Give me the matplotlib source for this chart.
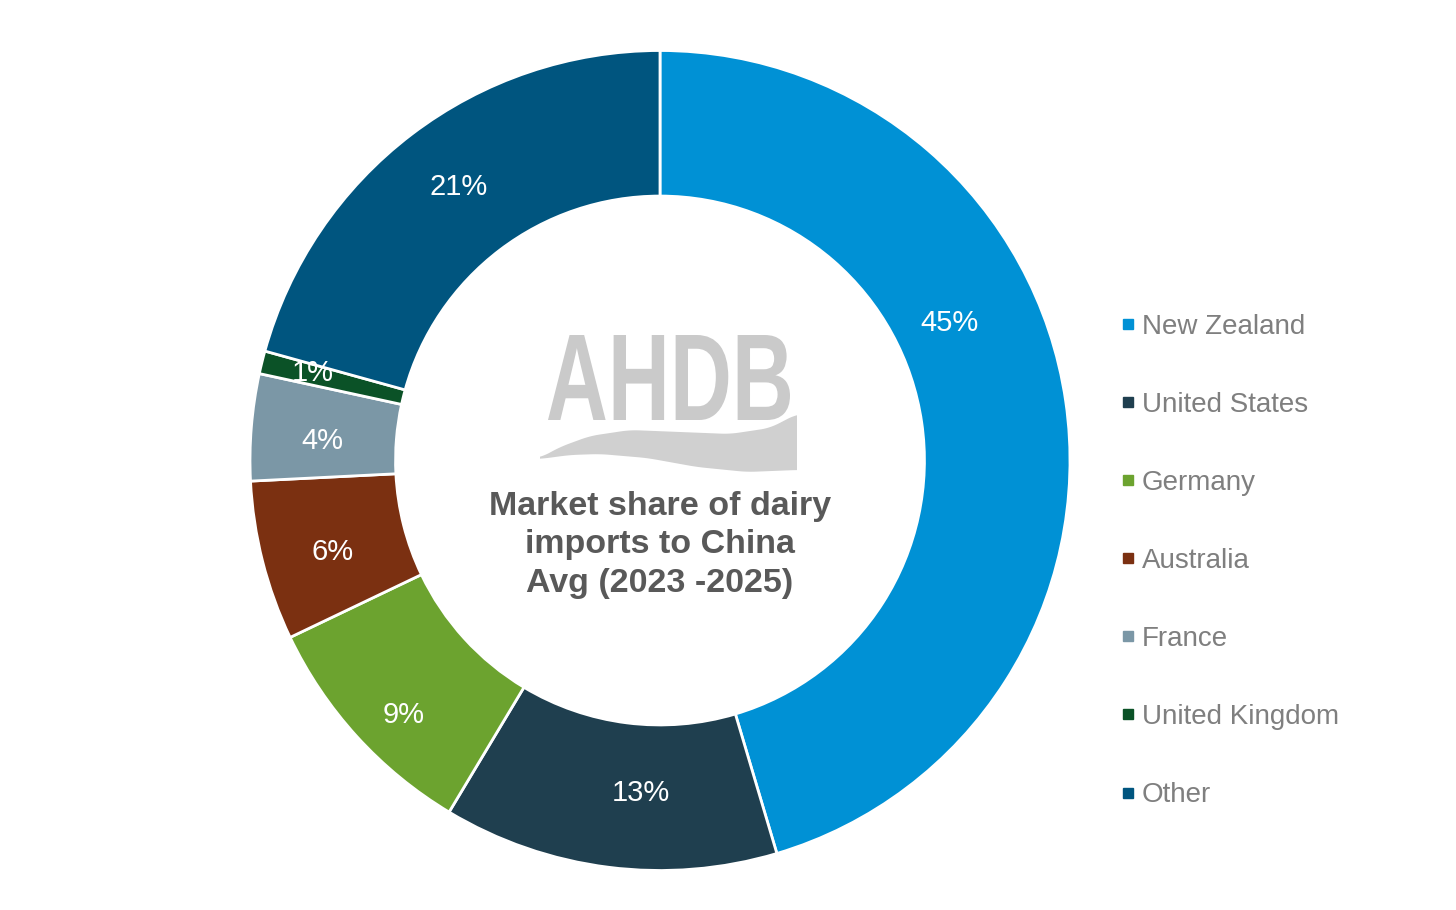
import numpy as np
import matplotlib
matplotlib.use("Agg")
import matplotlib.pyplot as plt
from matplotlib.lines import Line2D
from matplotlib.textpath import TextPath
from matplotlib.font_manager import FontProperties
from matplotlib.patches import PathPatch, Polygon
from matplotlib.transforms import Affine2D

plt.rcParams['font.family'] = ['Liberation Sans', 'DejaVu Sans']

countries = ["New Zealand", "United States", "Germany", "Australia",
             "France", "United Kingdom", "Other"]
shares = [45.4, 13.2, 9.3, 6.3, 4.2, 0.9, 20.7]
colors = ["#0091D5", "#1F3F4F", "#6CA32F", "#7B3011",
          "#7B97A6", "#0B5227", "#00557F"]
title_lines = ["Market share of dairy", "imports to China", "Avg (2023 -2025)"]

# label placement as in the original (angle clockwise from 12 o'clock, radius)
label_polar = [(64.6, 0.783), (183.3, 0.812), (225.2, 0.88), (254.4, 0.828),
               (273.3, 0.826), (284.2, 0.873), (323.6, 0.829)]

W, H = 1456, 910
fig = plt.figure(figsize=(W / 100, H / 100), dpi=100)
fig.patch.set_facecolor("white")

cx, cy, R = 660, 460.5, 410
ax = fig.add_axes([(cx - R) / W, (H - cy - R) / H, 2 * R / W, 2 * R / H])
wedges, texts, autotexts = ax.pie(
    shares, colors=colors, startangle=90, counterclock=False,
    radius=1.0, autopct='%.0f%%', pctdistance=0.83,
    wedgeprops=dict(width=0.355, edgecolor="white", linewidth=2),
    textprops=dict(color="white", fontsize=21))
ax.set_xlim(-1, 1)
ax.set_ylim(-1, 1)
ax.set_aspect("equal")
ax.axis("off")

for t, (a, r) in zip(autotexts, label_polar):
    th = np.deg2rad(90 - a)
    t.set_position((r * np.cos(th), r * np.sin(th)))

# overlay axes in pixel coordinates for the centre decoration
ov = fig.add_axes([0, 0, 1, 1], zorder=5)
ov.set_xlim(0, W)
ov.set_ylim(H, 0)
ov.axis("off")
ov.patch.set_alpha(0)

# AHDB logo letters
tp = TextPath((0, 0), "AHDB", size=100,
              prop=FontProperties(family="Liberation Sans", weight="bold"))
ext = tp.get_extents()
x0, x1, ytop, ybot = 548, 790, 335, 420
sx = (x1 - x0) / ext.width
sy = (ybot - ytop) / ext.height
tr = Affine2D().translate(-ext.x0, -ext.y0).scale(sx, -sy).translate(x0, ybot)
ov.add_patch(PathPatch(tr.transform_path(tp), facecolor="#CACACA", edgecolor="none"))

# wave under the logo
xs = np.linspace(540, 797, 200)
top = np.interp(xs, [540, 560, 590, 630, 680, 730, 770, 797],
                [458, 447, 436, 430, 432, 434, 428, 414])
bot = np.interp(xs, [540, 570, 600, 647, 697, 747, 797],
                [459, 455, 454, 458, 467, 472, 470])
k = np.ones(15) / 15
top_s = np.convolve(np.pad(top, 7, mode="edge"), k, mode="valid")
bot_s = np.convolve(np.pad(bot, 7, mode="edge"), k, mode="valid")
poly = np.vstack([np.column_stack([xs, top_s]), np.column_stack([xs[::-1], bot_s[::-1]])])
ov.add_patch(Polygon(poly, closed=True, facecolor="#D0D0D0", edgecolor="none"))

ov.text(cx, 545, "\n".join(title_lines), ha="center", va="center",
        fontsize=24.5, fontweight="bold", color="#595959", linespacing=1.31)

handles = [Line2D([], [], marker="s", linestyle="none", markersize=6.5,
                  markerfacecolor=c, markeredgecolor=c) for c in colors]
fig.legend(handles, countries, loc="center left",
           bbox_to_anchor=(1121 / W, 1 - 561 / H), frameon=False,
           fontsize=20, labelcolor="#7F7F7F", handlelength=0.5,
           handletextpad=0.25, labelspacing=1.875, borderpad=0,
           borderaxespad=0)

fig.savefig("out.png", dpi=100, facecolor="white")
